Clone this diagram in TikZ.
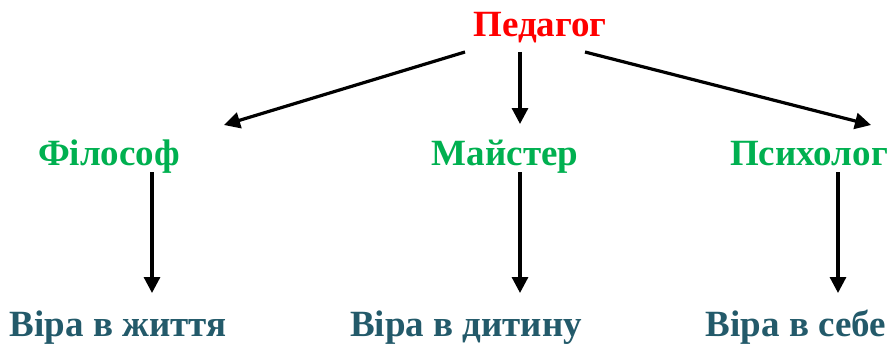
\documentclass[tikz,border=0pt]{standalone}
\usepackage{fontspec}
\setmainfont{Liberation Serif}
\usetikzlibrary{arrows.meta}
\definecolor{topred}{HTML}{FF0000}
\definecolor{midgreen}{HTML}{00B050}
\definecolor{lowteal}{HTML}{235A6A}
\begin{document}
\begin{tikzpicture}[x=1pt,y=-1pt,
  toplbl/.style={inner sep=0pt,anchor=base,font=\fontsize{37}{40}\selectfont\bfseries,text=topred},
  midlbl/.style={inner sep=0pt,anchor=base,font=\fontsize{37}{40}\selectfont\bfseries,text=midgreen},
  lowlbl/.style={inner sep=0pt,anchor=base,font=\fontsize{37}{44}\selectfont\bfseries,text=lowteal},
  arr/.style={line width=3.2pt,-{Triangle[length=16pt,width=16pt]}}]
\useasboundingbox (0,0) rectangle (891,345);
\node[toplbl] (ped) at (540,37) {Педагог};
\node[midlbl] (fil) at (109,165) {Філософ};
\node[midlbl] (mai) at (505,165) {Майстер};
\node[midlbl] (psy) at (809,165) {Психолог};
\node[lowlbl] (v1) at (118,336) {Віра в життя};
\node[lowlbl] (v2) at (466,336) {Віра в дитину};
\node[lowlbl] (v3) at (796,336) {Віра в себе};
\coordinate (p1) at (465,52);
\coordinate (p2) at (520,52);
\coordinate (p3) at (585,52);
\coordinate (f1) at (224,125);
\coordinate (m1) at (520,124);
\coordinate (s1) at (871,125);
\coordinate (fa) at (152,172);
\coordinate (ma) at (520,172);
\coordinate (sa) at (838,172);
\coordinate (fb) at (152,293);
\coordinate (mb) at (520,293);
\coordinate (sb) at (838,293);
\draw[arr] (p1) -- (f1);
\draw[arr] (p2) -- (m1);
\draw[arr] (p3) -- (s1);
\draw[arr] (fa) -- (fb);
\draw[arr] (ma) -- (mb);
\draw[arr] (sa) -- (sb);
\end{tikzpicture}
\end{document}
